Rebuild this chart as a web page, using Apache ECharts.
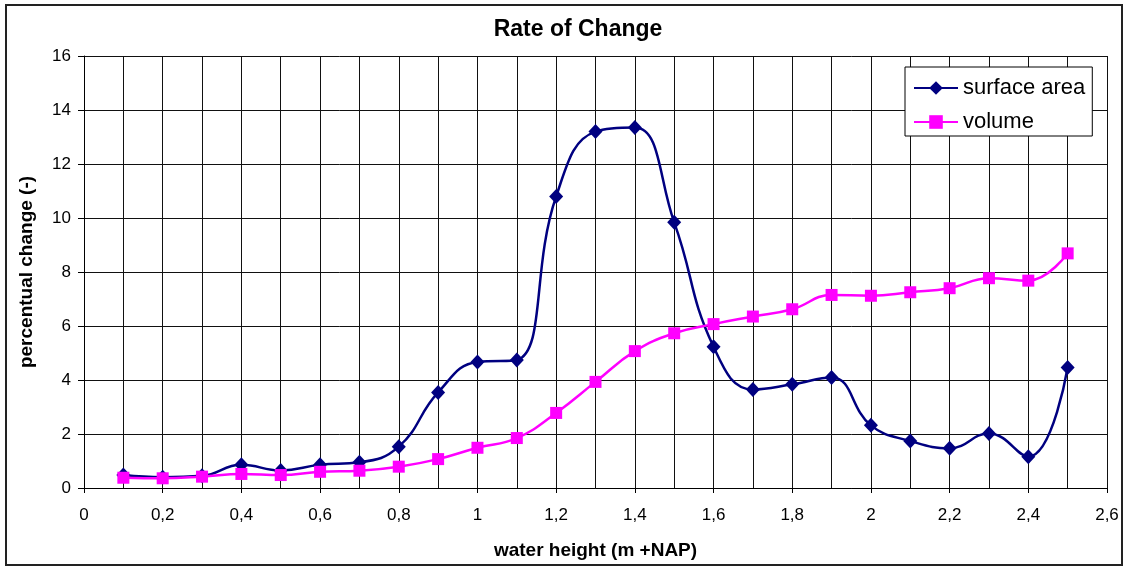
<!DOCTYPE html>
<html>
<head>
<meta charset="utf-8">
<title>Rate of Change</title>
<script src="https://cdn.jsdelivr.net/npm/echarts@6/dist/echarts.min.js"></script>
<style>
  html, body { margin: 0; padding: 0; background: #fff; }
  #root1 { width: 1124px; height: 567px; }
</style>
</head>
<body>
<div id="root1"></div>
<script>
// water height (m +NAP)
const heights = [0.1, 0.2, 0.3, 0.4, 0.5, 0.6, 0.7, 0.8, 0.9, 1.0, 1.1, 1.2, 1.3,
  1.4, 1.5, 1.6, 1.7, 1.8, 1.9, 2.0, 2.1, 2.2, 2.3, 2.4, 2.5];
const surfaceArea = [0.48, 0.4, 0.45, 0.86, 0.65, 0.86, 0.95, 1.53, 3.54, 4.67, 4.74, 10.8, 13.2,
  13.35, 9.84, 5.23, 3.65, 3.84, 4.09, 2.32, 1.74, 1.47, 2.02, 1.16, 4.46];
const volume = [0.38, 0.36, 0.42, 0.52, 0.48, 0.6, 0.64, 0.79, 1.07, 1.49, 1.85, 2.78, 3.93,
  5.07, 5.73, 6.07, 6.35, 6.62, 7.15, 7.12, 7.25, 7.4, 7.77, 7.68, 8.69];

const font = 'Arial, "Liberation Sans", sans-serif';

const chartDom = document.getElementById('root1');
const myChart = echarts.init(chartDom);

const pairs = (ys) => heights.map((x, i) => [x, ys[i]]);

const option = {
  animation: false,
  backgroundColor: '#fff',
  textStyle: { fontFamily: font },
  graphic: [{
    type: 'rect',
    shape: { x: 6, y: 5, width: 1116, height: 560 },
    style: { fill: 'none', stroke: '#222', lineWidth: 2 },
    silent: true
  }],
  title: {
    text: 'Rate of Change',
    left: 573,
    top: 13,
    textAlign: 'center',
    textStyle: { fontFamily: font, fontSize: 23, fontWeight: 'bold', color: '#000' }
  },
  legend: {
    orient: 'vertical',
    left: 905,
    top: 67,
    padding: [10, 7, 3, 8],
    itemWidth: 44,
    itemHeight: 17,
    itemGap: 12,
    backgroundColor: '#fff',
    borderColor: '#000',
    borderWidth: 1,
    textStyle: { fontFamily: font, fontSize: 22, color: '#000' },
    data: ['surface area', 'volume']
  },
  grid: {
    left: 84,
    right: 17,
    top: 56,
    bottom: 79
  },
  xAxis: {
    type: 'value',
    min: 0,
    max: 2.6,
    interval: 0.2,
    name: 'water height (m +NAP)',
    nameLocation: 'middle',
    nameGap: 53,
    nameTextStyle: { fontFamily: font, fontSize: 19, fontWeight: 'bold', color: '#000' },
    axisLine: { onZero: false, lineStyle: { color: '#000', width: 1 } },
    axisTick: { show: true, length: 5, lineStyle: { color: '#000' } },
    minorTick: { show: false, splitNumber: 2 },
    axisLabel: {
      fontFamily: font,
      fontSize: 17,
      color: '#000',
      margin: 19,
      formatter: (v) => String(Math.round(v * 10) / 10).replace('.', ',')
    },
    splitLine: { show: true, lineStyle: { color: '#111', width: 1 } },
    minorSplitLine: { show: true, lineStyle: { color: '#111', width: 1 } }
  },
  yAxis: {
    type: 'value',
    min: 0,
    max: 16,
    interval: 2,
    name: 'percentual change (-)',
    nameLocation: 'middle',
    nameGap: 48,
    nameTextStyle: { fontFamily: font, fontSize: 19, fontWeight: 'bold', color: '#000' },
    axisLine: { show: true, lineStyle: { color: '#000', width: 1 } },
    axisTick: { show: true, length: 6, lineStyle: { color: '#000' } },
    axisLabel: { fontFamily: font, fontSize: 17, color: '#000', margin: 13 },
    splitLine: { show: true, lineStyle: { color: '#111', width: 1 } }
  },
  series: [
    {
      name: 'surface area',
      type: 'line',
      data: pairs(surfaceArea),
      smooth: 0.45,
      symbol: 'diamond',
      symbolSize: [14, 15],
      color: '#000080',
      lineStyle: { color: '#000080', width: 2.5 },
      itemStyle: { color: '#000080' },
      z: 3
    },
    {
      name: 'volume',
      type: 'line',
      data: pairs(volume),
      smooth: 0.45,
      symbol: 'rect',
      symbolSize: 12,
      color: '#ff00ff',
      lineStyle: { color: '#ff00ff', width: 2.5 },
      itemStyle: { color: '#ff00ff' },
      z: 4
    }
  ]
};

myChart.setOption(option);
</script>
</body>
</html>
